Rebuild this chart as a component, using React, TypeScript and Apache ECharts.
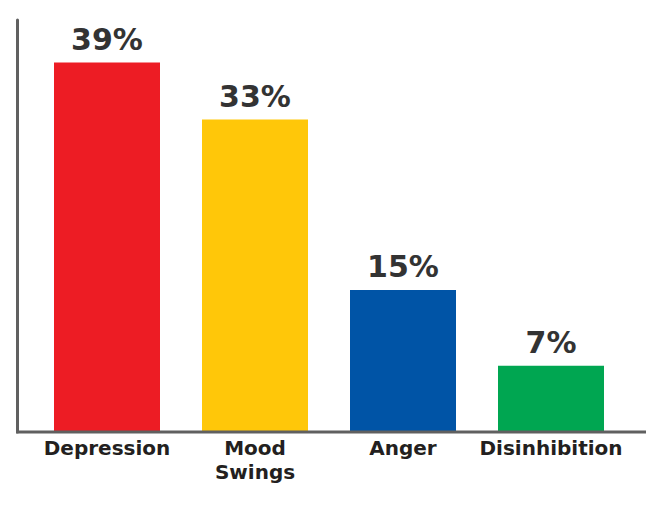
import React, { useEffect, useRef } from "react";
import * as echarts from "echarts";

const categories = ["Depression", "Mood\nSwings", "Anger", "Disinhibition"];
const values = [39, 33, 15, 7];
const barColors = ["#ED1C24", "#FFC709", "#0054A6", "#00A651"];

export default function App() {
  const ref = useRef<HTMLDivElement>(null);
  useEffect(() => {
    if (!ref.current) return;
    const chart = echarts.init(ref.current, null, { renderer: "svg" });
    chart.setOption({
      animation: false,
      backgroundColor: "#ffffff",
      grid: { left: 33, right: 24, top: 20, bottom: 76 },
      xAxis: {
        type: "category",
        data: categories,
        axisLine: { show: false },
        axisTick: { show: false },
        axisLabel: {
          interval: 0,
          margin: 4,
          fontFamily: "DejaVu Sans",
          fontWeight: "bold",
          fontSize: 20,
          lineHeight: 24,
          color: "#231F20",
        },
      },
      yAxis: {
        type: "value",
        min: 0,
        max: 43.5,
        offset: 16,
        axisLine: { show: true, lineStyle: { color: "#606060", width: 3 } },
        axisTick: { show: false },
        axisLabel: { show: false },
        splitLine: { show: false },
      },
      graphic: [
        {
          type: "line",
          shape: { x1: 16, y1: 432, x2: 646, y2: 432 },
          style: { stroke: "#606060", lineWidth: 3 },
          z: 10,
        },
      ],
      series: [
        {
          type: "bar",
          barWidth: 106,
          data: values.map((v, i) => ({ value: v, itemStyle: { color: barColors[i] } })),
          label: {
            show: true,
            position: "top",
            distance: 8,
            formatter: "{c}%",
            fontFamily: "DejaVu Sans",
            fontWeight: "bold",
            fontSize: 30,
            color: "#333333",
          },
        },
      ],
    });
    return () => chart.dispose();
  }, []);
  return (
    <div
      ref={ref}
      style={{ position: "absolute", left: 0, top: 0, width: 649, height: 508 }}
    />
  );
}
